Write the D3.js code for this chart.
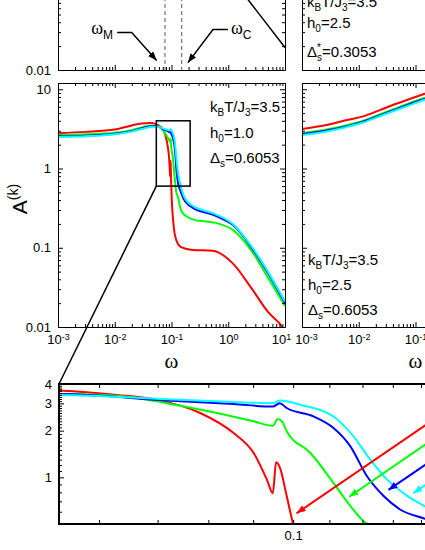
<!DOCTYPE html>
<html>
<head>
<meta charset="utf-8">
<script src="https://cdn.jsdelivr.net/npm/d3@7"></script>
<style>
  body { margin: 0; background: #fff; }
  svg { display: block; }
</style>
</head>
<body>
<div id="chart"></div>
<script>
// ---- data ----
const xMajorTicks = [1e-3, 1e-2, 1e-1, 1, 10];
const yMajorTicks = [0.01, 0.1, 1, 10];
const insetYTicks = [1, 2, 3, 4];
const insetXTicks = [0.1];
const seriesColors = ["#ff0000", "#00ff00", "#0000ff", "#00ffff"];

// zoomed window (omega range, A range shown by the box) and inset A range
const zoomOmega = [0.054, 0.213];
const zoomBoxA = [0.6, 4];
const insetA = [0.5, 4];

// h0 = 1.0 panel, [omega, A]
const redH1 = [[0.001, 2.8], [0.003, 2.9], [0.01, 3.1], [0.02, 3.5], [0.03, 3.7], [0.042, 3.74], [0.054, 3.63],
  [0.0629, 3.4], [0.0699, 3.16], [0.0783, 2.6], [0.0855, 1.93], [0.0901, 1.44], [0.0933, 0.97], [0.0948, 0.79],
  [0.0956, 1.25], [0.0966, 1.15], [0.0983, 0.76], [0.0999, 0.51], [0.108, 0.204], [0.121, 0.126], [0.148, 0.102],
  [0.237, 0.094], [0.53, 0.092], [1.19, 0.064], [2.67, 0.0296], [5, 0.0155], [8.97, 0.01], [10, 0.0088]];
const greenH1 = [[0.001, 2.65], [0.003, 2.7], [0.01, 2.82], [0.02, 3.05], [0.03, 3.3], [0.042, 3.47], [0.054, 3.45],
  [0.0629, 3.36], [0.0717, 3.01], [0.0818, 2.6], [0.0901, 2.3], [0.0948, 2.15], [0.096, 2.38], [0.0971, 2.3],
  [0.0983, 1.98], [0.1046, 1.44], [0.1112, 0.92], [0.1162, 0.655], [0.1209, 0.51], [0.13, 0.44], [0.141, 0.33],
  [0.16, 0.27], [0.185, 0.248], [0.25, 0.225], [0.415, 0.214], [0.7, 0.2], [1.2, 0.168], [2.67, 0.088],
  [5, 0.042], [10, 0.0186]];
const blueH1 = [[0.001, 2.55], [0.003, 2.6], [0.01, 2.74], [0.02, 2.98], [0.03, 3.22], [0.042, 3.42], [0.054, 3.45],
  [0.0717, 3.13], [0.0855, 2.97], [0.0948, 2.86], [0.0965, 3.01], [0.0983, 2.8], [0.1055, 2.47], [0.1112, 2.08],
  [0.1162, 1.59], [0.1214, 1.02], [0.1268, 0.76], [0.1325, 0.62], [0.1415, 0.54], [0.15, 0.48], [0.165, 0.41],
  [0.185, 0.365], [0.242, 0.316], [0.546, 0.26], [0.8, 0.23], [1.2, 0.195], [2.67, 0.097], [5, 0.048], [10, 0.0202]];
const cyanH1 = [[0.001, 2.5], [0.003, 2.55], [0.01, 2.7], [0.02, 2.93], [0.03, 3.15], [0.042, 3.35], [0.054, 3.4],
  [0.0717, 3.19], [0.0855, 3.06], [0.0948, 3.01], [0.0966, 3.13], [0.1019, 2.94], [0.1112, 2.47], [0.1172, 1.84],
  [0.1225, 1.3], [0.128, 0.97], [0.135, 0.76], [0.1415, 0.65], [0.15, 0.55], [0.165, 0.45], [0.185, 0.39],
  [0.242, 0.335], [0.546, 0.272], [0.8, 0.24], [1.2, 0.2], [2.67, 0.1], [5, 0.05], [10, 0.021]];

// h0 = 2.5 panel, [omega, A]
const redH25 = [[0.001, 3.16], [0.003, 3.6], [0.0062, 4.1], [0.012, 4.55], [0.024, 5.49], [0.05, 6.7], [0.1, 8.0], [0.2, 9.5]];
const greenH25 = [[0.001, 2.79], [0.003, 3.15], [0.0062, 3.52], [0.012, 4.0], [0.024, 4.84], [0.05, 5.9], [0.1, 7.1], [0.2, 8.4]];
const blueH25 = [[0.001, 2.72], [0.003, 3.07], [0.0062, 3.43], [0.012, 3.9], [0.024, 4.7], [0.05, 5.75], [0.1, 6.9], [0.2, 8.2]];
const cyanH25 = [[0.001, 2.65], [0.003, 2.98], [0.0062, 3.35], [0.012, 3.8], [0.024, 4.6], [0.05, 5.6], [0.1, 6.7], [0.2, 8.0]];

// top panel (only its lower edge is visible)
const topCurve = [[1.5, 0.111], [10, 0.0192]];
const omegaM = 0.0767;
const omegaC = 0.151;
const omegaMArrow = [[0.011, 0.0297], [0.0199, 0.0297], [0.0548, 0.0132]];
const omegaCArrow = [[0.99, 0.0324], [0.538, 0.0324], [0.195, 0.0124]];

// coloured arrows in the inset, [tail, tip]
const insetArrows = [
  [[0.1472, 2.52], [0.1009, 0.586]],
  [[0.1472, 1.89], [0.1159, 0.75]],
  [[0.1472, 1.40], [0.1285, 0.83]],
  [[0.1472, 1.035], [0.1372, 0.79]]
];

// text blocks
const notesH1 = [
  [["k"], ["B", "sub"], ["T/J"], ["3", "sub"], ["=3.5"]],
  [["h"], ["0", "sub"], ["=1.0"]],
  [["Δ"], ["s", "sub"], ["=0.6053"]]
];
const notesH25 = [
  [["k"], ["B", "sub"], ["T/J"], ["3", "sub"], ["=3.5"]],
  [["h"], ["0", "sub"], ["=2.5"]],
  [["Δ"], ["s", "sub"], ["=0.6053"]]
];
const notesTop = [
  [["k"], ["B", "sub"], ["T/J"], ["3", "sub"], ["=3.5"]],
  [["h"], ["0", "sub"], ["=2.5"]],
  [["Δ"], ["*", "sup"], ["s", "sub", -4], ["=0.3053"]]
];

const FONT = '"Liberation Sans", Arial, sans-serif';
const SERIF = '"Liberation Serif", "Times New Roman", serif';

// ---- scales ----
const mainX = d3.scaleLog([1e-3, 10], [58, 285]);
const mainY = d3.scaleLog([0.01, 12], [327, 83]);
const topY = d3.scaleLog([0.01, 0.1], [70, -9.4]);
const rightX = d3.scaleLog([1e-3, 10], [302, 529]);
const insetX = d3.scaleLog(zoomOmega, [59, 59 + 875 * Math.log10(zoomOmega[1] / zoomOmega[0])]);
const insetY = d3.scaleLog(insetA, [524, 384]);

const svg = d3.select("#chart").append("svg")
  .attr("width", 425).attr("height", 550)
  .attr("font-family", FONT);
const defs = svg.append("defs");

function clip(id, x0, y0, x1, y1) {
  defs.append("clipPath").attr("id", id)
    .append("rect").attr("x", x0).attr("y", y0).attr("width", x1 - x0).attr("height", y1 - y0);
  return `url(#${id})`;
}

function arrowMarker(id, color) {
  defs.append("marker").attr("id", id)
    .attr("viewBox", "0 0 9 7").attr("refX", 9).attr("refY", 3.5)
    .attr("markerWidth", 9).attr("markerHeight", 7)
    .attr("markerUnits", "userSpaceOnUse").attr("orient", "auto")
    .append("path").attr("d", "M0,0L9,3.5L0,7Z").attr("fill", color);
  return `url(#${id})`;
}

function curves(parent, xs, ys, series, clipUrl) {
  const line = d3.line().x((d) => xs(d[0])).y((d) => ys(d[1])).curve(d3.curveMonotoneX);
  parent.append("g").attr("clip-path", clipUrl)
    .selectAll("path").data(series).join("path")
    .attr("d", line)
    .attr("fill", "none")
    .attr("stroke", (d, i) => seriesColors[i])
    .attr("stroke-width", 2);
}

// one side of a frame: minor ticks + major ticks (ticks point inward)
function drawAxis(axisFn, scale, transform, majors, minors, opts = {}) {
  const { major = 5, minor = 3, pad = 7, format = () => "" } = opts;
  const g = svg.append("g").attr("transform", transform);
  g.append("g")
    .call(axisFn(scale).tickValues(minors).tickSizeInner(-minor).tickSizeOuter(0).tickFormat(() => ""))
    .call((s) => s.select(".domain").remove());
  const ax = g.append("g")
    .call(axisFn(scale).tickValues(majors).tickSizeInner(-major).tickSizeOuter(0).tickPadding(pad).tickFormat(format))
    .attr("font-size", 13).attr("font-family", FONT);
  return ax;
}

function powerLabels(ax) {
  ax.selectAll(".tick text").each(function (d) {
    const t = d3.select(this).text("");
    t.append("tspan").text("10");
    t.append("tspan").attr("dy", "-0.5em").attr("font-size", 9).text(Math.round(Math.log10(d)));
  });
  return ax;
}

function richText(parent, x, y, parts, size) {
  const t = parent.append("text").attr("x", x).attr("y", y).attr("font-size", size);
  let cur = 0;
  parts.forEach(([s, kind, dx]) => {
    const off = kind === "sub" ? 4 : kind === "sup" ? -6 : 0;
    const sp = t.append("tspan").attr("dy", off - cur).text(s);
    if (kind) sp.attr("font-size", Math.round(size * 0.68));
    if (dx) sp.attr("dx", dx);
    cur = off;
  });
  return t;
}

const minorOf = (scale, majors) => scale.ticks().filter((v) => !majors.some((m) => Math.abs(m - v) / m < 1e-6));
const fmtNum = (v) => String(v);

// ---- curves ----
curves(svg, mainX, mainY, [redH1, greenH1, blueH1, cyanH1], clip("clipMain", 58, 83, 285, 327));
curves(svg, rightX, mainY, [redH25, greenH25, blueH25, cyanH25], clip("clipRight", 302, 83, 529, 327));
curves(svg, insetX, insetY, [redH1, greenH1, blueH1, cyanH1], clip("clipInset", 59, 384, insetX.range()[1], 524));

svg.append("path")
  .attr("clip-path", clip("clipTop", 58, -20, 285, 70))
  .attr("d", d3.line().x((d) => mainX(d[0])).y((d) => topY(d[1]))(topCurve))
  .attr("fill", "none").attr("stroke", "#000").attr("stroke-width", 1.5);

// ---- top panel ----
const topYMinor = minorOf(topY, [0.01]);
const xMinor = minorOf(mainX, xMajorTicks);
drawAxis(d3.axisLeft, topY, "translate(58,0)", [0.01], topYMinor, { format: fmtNum });
drawAxis(d3.axisRight, topY, "translate(285,0)", [0.01], topYMinor);
drawAxis(d3.axisBottom, mainX, "translate(0,70)", xMajorTicks, xMinor);
drawAxis(d3.axisLeft, topY, "translate(302,0)", [0.01], topYMinor);
drawAxis(d3.axisBottom, rightX, "translate(0,70)", xMajorTicks, xMinor);

svg.selectAll("line.wmark").data([omegaM, omegaC]).join("line")
  .attr("class", "wmark")
  .attr("x1", (d) => mainX(d)).attr("x2", (d) => mainX(d))
  .attr("y1", -10).attr("y2", topY(0.01))
  .attr("stroke", "#808080").attr("stroke-width", 1.3).attr("stroke-dasharray", "4,3");

const blackHead = arrowMarker("headBlack", "#000");
const plainLine = d3.line().x((d) => mainX(d[0])).y((d) => topY(d[1]));
[omegaMArrow, omegaCArrow].forEach((pts) => {
  svg.append("path").attr("d", plainLine(pts))
    .attr("fill", "none").attr("stroke", "#000").attr("stroke-width", 1.5)
    .attr("marker-end", blackHead);
});

const wM = svg.append("text").attr("x", mainX(omegaMArrow[0][0]) - 4).attr("y", topY(omegaMArrow[0][1]) + 2)
  .attr("text-anchor", "end");
wM.append("tspan").attr("font-family", SERIF).attr("font-size", 18).text("ω");
wM.append("tspan").attr("font-size", 12).attr("dy", 5).text("M");
const wC = svg.append("text").attr("x", mainX(omegaCArrow[0][0]) + 3).attr("y", topY(omegaCArrow[0][1]) + 5);
wC.append("tspan").attr("font-family", SERIF).attr("font-size", 18).text("ω");
wC.append("tspan").attr("font-size", 12).attr("dy", 5).text("C");

notesTop.forEach((parts, i) => richText(svg, 307, [7, 28, 57][i], parts, 15));

// ---- main panel (h0 = 1.0) ----
const yMinor = minorOf(mainY, yMajorTicks);
drawAxis(d3.axisLeft, mainY, "translate(58,0)", yMajorTicks, yMinor, { format: fmtNum });
drawAxis(d3.axisRight, mainY, "translate(285,0)", yMajorTicks, yMinor);
drawAxis(d3.axisTop, mainX, "translate(0,83)", xMajorTicks, xMinor);
powerLabels(drawAxis(d3.axisBottom, mainX, "translate(0,327)", xMajorTicks, xMinor, { pad: 8, format: fmtNum }))
  .selectAll(".tick text").filter((d) => d === 10).attr("dx", -4);

notesH1.forEach((parts, i) => richText(svg, 210, [111.5, 138, 162.5][i], parts, 15));

const aLabel = svg.append("text").attr("transform", "translate(27,199) rotate(-90)").attr("text-anchor", "middle");
aLabel.append("tspan").attr("font-size", 21).text("A");
aLabel.append("tspan").attr("font-size", 14).attr("dy", -9).text("(k)");

svg.append("text").attr("x", mainX(0.1)).attr("y", 368).attr("text-anchor", "middle")
  .attr("font-family", SERIF).attr("font-size", 21).text("ω");

// ---- right panel (h0 = 2.5) ----
drawAxis(d3.axisLeft, mainY, "translate(302,0)", yMajorTicks, yMinor);
drawAxis(d3.axisTop, rightX, "translate(0,83)", xMajorTicks, xMinor);
powerLabels(drawAxis(d3.axisBottom, rightX, "translate(0,327)", xMajorTicks, xMinor, { pad: 8, format: fmtNum }))
  .selectAll(".tick text").filter((d) => d === 1e-3).attr("dx", 4);
notesH25.forEach((parts, i) => richText(svg, 308, [265, 290, 315][i], parts, 15));
svg.append("text").attr("x", rightX(0.1)).attr("y", 368).attr("text-anchor", "middle")
  .attr("font-family", SERIF).attr("font-size", 21).text("ω");

// ---- zoom box and connector ----
svg.append("rect")
  .attr("x", mainX(zoomOmega[0])).attr("y", mainY(zoomBoxA[1]))
  .attr("width", mainX(zoomOmega[1]) - mainX(zoomOmega[0]))
  .attr("height", mainY(zoomBoxA[0]) - mainY(zoomBoxA[1]))
  .attr("fill", "none").attr("stroke", "#000").attr("stroke-width", 1.5);
svg.append("line")
  .attr("x1", mainX(zoomOmega[0])).attr("y1", mainY(zoomBoxA[0]))
  .attr("x2", insetX(zoomOmega[0])).attr("y2", insetY(insetA[1]))
  .attr("stroke", "#000").attr("stroke-width", 1.5);

// ---- inset ----
const insetYMinor = d3.range(5, 41).map((v) => v / 10).filter((v) => !insetYTicks.includes(v));
const insetXMinor = d3.range(6, 21).map((v) => v / 100).filter((v) => v !== 0.1);
svg.append("rect")
  .attr("x", insetX.range()[0]).attr("y", insetY(insetA[1]))
  .attr("width", insetX.range()[1] - insetX.range()[0])
  .attr("height", insetY(insetA[0]) - insetY(insetA[1]))
  .attr("fill", "none").attr("stroke", "#000").attr("stroke-width", 2);
drawAxis(d3.axisLeft, insetY, "translate(59,0)", insetYTicks, insetYMinor, { format: fmtNum });
drawAxis(d3.axisTop, insetX, "translate(0,384)", insetXTicks, insetXMinor, { major: 4, minor: 4 });
drawAxis(d3.axisBottom, insetX, "translate(0,524)", insetXTicks, insetXMinor, { major: 4, minor: 4, format: fmtNum });

const arrowLine = d3.line().x((d) => insetX(d[0])).y((d) => insetY(d[1]));
insetArrows.forEach((pts, i) => {
  svg.append("path").attr("d", arrowLine(pts))
    .attr("fill", "none").attr("stroke", seriesColors[i]).attr("stroke-width", 2)
    .attr("marker-end", arrowMarker("head" + i, seriesColors[i]));
});
</script>
</body>
</html>
